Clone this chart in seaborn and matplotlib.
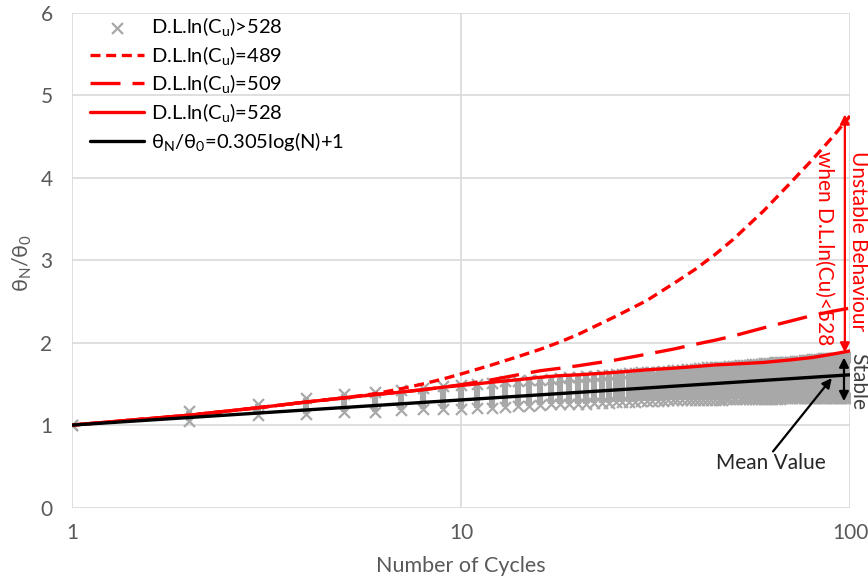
import numpy as np
import pandas as pd
import matplotlib
matplotlib.use("Agg")
import matplotlib.pyplot as plt
from matplotlib.ticker import NullLocator
import seaborn as sns

# ---- data -------------------------------------------------------------
cycles = list(range(1, 101))

# spread of the measured normalised rotations at every cycle (lowest / highest)
band_low = [
    1.00, 1.05, 1.12, 1.14, 1.16, 1.16, 1.18, 1.19, 1.19, 1.20,
    1.21, 1.21, 1.22, 1.23, 1.23, 1.24, 1.25, 1.25, 1.25, 1.26,
    1.26, 1.27, 1.27, 1.27, 1.28, 1.28, 1.28, 1.28, 1.29, 1.29,
    1.29, 1.29, 1.29, 1.30, 1.30, 1.30, 1.30, 1.30, 1.30, 1.31,
    1.31, 1.31, 1.31, 1.31, 1.31, 1.31, 1.31, 1.32, 1.32, 1.32,
    1.32, 1.32, 1.32, 1.32, 1.32, 1.32, 1.32, 1.32, 1.32, 1.32,
    1.32, 1.32, 1.32, 1.32, 1.32, 1.32, 1.33, 1.33, 1.33, 1.33,
    1.33, 1.33, 1.33, 1.33, 1.33, 1.33, 1.33, 1.33, 1.33, 1.33,
    1.33, 1.33, 1.33, 1.33, 1.33, 1.33, 1.33, 1.33, 1.33, 1.33,
    1.33, 1.33, 1.33, 1.33, 1.33, 1.33, 1.33, 1.33, 1.33, 1.33,
]
band_high = [
    1.00, 1.17, 1.26, 1.33, 1.38, 1.40, 1.43, 1.45, 1.47, 1.49,
    1.50, 1.51, 1.53, 1.53, 1.55, 1.55, 1.56, 1.57, 1.58, 1.58,
    1.59, 1.60, 1.61, 1.61, 1.62, 1.62, 1.63, 1.63, 1.64, 1.65,
    1.65, 1.65, 1.66, 1.66, 1.67, 1.67, 1.67, 1.68, 1.68, 1.68,
    1.69, 1.69, 1.70, 1.70, 1.70, 1.71, 1.71, 1.71, 1.72, 1.72,
    1.72, 1.73, 1.73, 1.73, 1.73, 1.74, 1.74, 1.74, 1.74, 1.75,
    1.75, 1.75, 1.75, 1.76, 1.76, 1.76, 1.76, 1.77, 1.77, 1.77,
    1.77, 1.78, 1.78, 1.78, 1.78, 1.79, 1.79, 1.79, 1.79, 1.80,
    1.80, 1.80, 1.80, 1.80, 1.81, 1.81, 1.81, 1.81, 1.81, 1.82,
    1.82, 1.82, 1.82, 1.82, 1.82, 1.82, 1.83, 1.83, 1.83, 1.83,
]

curve_cycles = [1, 2, 3, 4, 5, 6, 7, 8, 9, 10, 12, 14, 16, 18, 20,
                25, 30, 35, 40, 45, 50, 60, 70, 80, 90, 100]
dl_489 = [1.00, 1.12, 1.21, 1.28, 1.33, 1.38, 1.44, 1.50, 1.56, 1.62, 1.73, 1.83, 1.92,
          2.01, 2.10, 2.32, 2.51, 2.71, 2.89, 3.07, 3.25, 3.60, 3.93, 4.22, 4.49, 4.75]
dl_509 = [1.00, 1.12, 1.21, 1.28, 1.33, 1.37, 1.40, 1.43, 1.46, 1.49, 1.55, 1.61, 1.66,
          1.69, 1.72, 1.79, 1.86, 1.92, 1.98, 2.03, 2.08, 2.18, 2.26, 2.33, 2.38, 2.42]
dl_528 = [1.00, 1.12, 1.21, 1.28, 1.33, 1.37, 1.40, 1.43, 1.46, 1.48, 1.52, 1.55, 1.58,
          1.60, 1.61, 1.64, 1.67, 1.69, 1.71, 1.73, 1.74, 1.76, 1.79, 1.82, 1.86, 1.90]

# fitted mean trend: theta_N / theta_0 = 0.305 log(N) + 1
fit_slope = 0.305
fit_intercept = 1.0
fit_cycles = [1, 100]

series_labels = [
    r"D.L.ln(C$_\mathregular{u}$)>528",
    r"D.L.ln(C$_\mathregular{u}$)=489",
    r"D.L.ln(C$_\mathregular{u}$)=509",
    r"D.L.ln(C$_\mathregular{u}$)=528",
    r"θ$_\mathregular{N}$/θ$_\mathregular{0}$=0.305log(N)+1",
]

# ---- style ------------------------------------------------------------
sns.set_theme(style="white")
plt.rcParams["font.family"] = ["Lato", "DejaVu Sans"]
plt.rcParams["mathtext.fontset"] = "custom"
plt.rcParams["mathtext.rm"] = "Lato"
plt.rcParams["mathtext.it"] = "Lato:italic"
plt.rcParams["mathtext.bf"] = "Lato:bold"

RED = "#FF0000"
GRAY = "#A8A8A8"
TXT = "#595959"
GRID = "#D9D9D9"
FS_TICK = 15
FS_LAB = 15.5
FS_LEG = 14.5
FS_NOTE = 15

fig = plt.figure(figsize=(8.68, 5.80), dpi=100)
ax = fig.add_axes([72 / 868, 1 - 507.5 / 580, (850 - 72) / 868, (507.5 - 13) / 580])
ax.set_xscale("log")
ax.set_xlim(1, 100)
ax.set_ylim(0, 6)

# measured scatter: each cycle forms a dense column of markers
ax.vlines(cycles, band_low, band_high, color=GRAY, lw=4.4, zorder=1)
scatter_df = pd.DataFrame({"N": cycles + cycles, "ratio": band_low + band_high})
sns.scatterplot(data=scatter_df, x="N", y="ratio", marker="x", color=GRAY, s=62,
                linewidth=1.6, ax=ax, zorder=2, label=series_labels[0])

sns.lineplot(x=curve_cycles, y=dl_489, ax=ax, color=RED, lw=2.4,
             linestyle=(0, (3, 1.7)), zorder=3, label=series_labels[1])
sns.lineplot(x=curve_cycles, y=dl_509, ax=ax, color=RED, lw=2.4,
             linestyle=(0, (9, 3.6)), zorder=3, label=series_labels[2])
sns.lineplot(x=curve_cycles, y=dl_528, ax=ax, color=RED, lw=2.4,
             zorder=3, label=series_labels[3])
fit_values = [fit_intercept + fit_slope * np.log10(n) for n in fit_cycles]
sns.lineplot(x=fit_cycles, y=fit_values, ax=ax, color="black", lw=2.4,
             zorder=4, label=series_labels[4])

# ---- axes -------------------------------------------------------------
ax.set_xticks([1, 10, 100])
ax.set_xticklabels(["1", "10", "100"])
ax.xaxis.set_minor_locator(NullLocator())
ax.set_yticks(range(0, 7))
ax.tick_params(axis="both", length=0, labelsize=FS_TICK, labelcolor=TXT)
ax.tick_params(axis="x", pad=11.5)
ax.tick_params(axis="y", pad=14)
ax.grid(True, color=GRID, lw=1.2)
for sp in ax.spines.values():
    sp.set_visible(False)

ax.set_xlabel("Number of Cycles", fontsize=FS_LAB, color=TXT)
ax.xaxis.label.set_va("center")
ax.xaxis.set_label_coords(0.5, -0.118)
ax.set_ylabel(r"θ$_\mathregular{N}$/θ$_\mathregular{0}$", fontsize=FS_LAB, color=TXT)
ax.yaxis.label.set_va("center")
ax.yaxis.set_label_coords(-0.064, 0.495)

leg = ax.legend(loc="upper left", bbox_to_anchor=(0.0125, 1.012), borderaxespad=0,
                frameon=False, fontsize=FS_LEG, handlelength=2.7, labelspacing=0.28,
                handletextpad=0.34)
for t in leg.get_texts():
    t.set_color("black")

# ---- annotations ------------------------------------------------------
ax.annotate("", xy=(97, 4.77), xytext=(97, 1.88),
            arrowprops=dict(arrowstyle="<|-|>", color=RED, lw=1.6, mutation_scale=14,
                            shrinkA=0, shrinkB=0), annotation_clip=False, zorder=6)
ax.annotate("", xy=(96.5, 1.82), xytext=(96.5, 1.29),
            arrowprops=dict(arrowstyle="<|-|>", color="black", lw=1.6, mutation_scale=14,
                            shrinkA=0, shrinkB=0), annotation_clip=False, zorder=6)
ax.text(104.7, 4.33, "Unstable Behaviour", rotation=270, ha="center", va="top",
        color=RED, fontsize=FS_NOTE, clip_on=False)
ax.text(86.0, 4.33, "when D.L.ln(Cu)<528", rotation=270, ha="center", va="top",
        color=RED, fontsize=FS_NOTE, clip_on=False)
ax.text(105, 1.88, "Stable", rotation=270, ha="center", va="top",
        color="#404040", fontsize=FS_NOTE, clip_on=False)
ax.annotate("", xy=(89.8, 1.57), xytext=(63.4, 0.68),
            arrowprops=dict(arrowstyle="-|>", color="black", lw=1.6, mutation_scale=14,
                            shrinkA=0, shrinkB=0), zorder=6)
ax.text(62.7, 0.54, "Mean Value", ha="center", va="center", color="#262626",
        fontsize=FS_NOTE)

fig.savefig("out.png", dpi=100)
